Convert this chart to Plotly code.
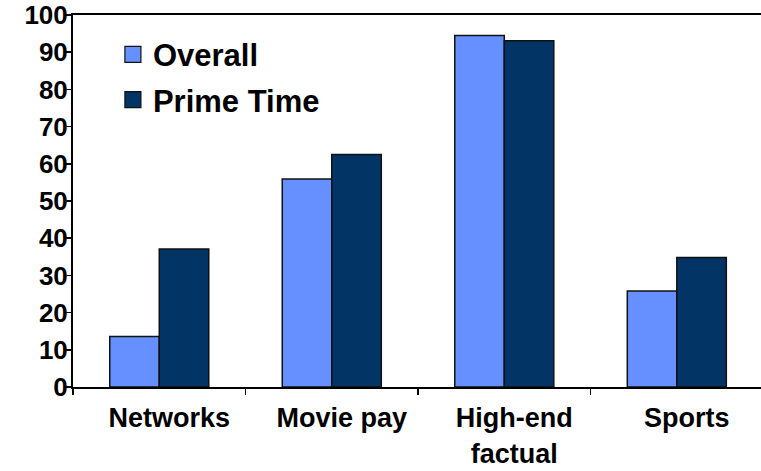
import plotly.graph_objects as go

categories = ["Networks", "Movie pay", "High-end<br>factual", "Sports"]
overall = [13.6, 55.9, 94.5, 25.8]
prime_time = [37.1, 62.5, 93.1, 34.8]
y_ticks = [0, 10, 20, 30, 40, 50, 60, 70, 80, 90, 100]
series_names = ["Overall", "Prime Time"]
series_colors = ["#6690FF", "#023466"]

FONT = "Liberation Sans, Arial, sans-serif"

fig = go.Figure()
for name, vals, col in zip(series_names, [overall, prime_time], series_colors):
    fig.add_trace(go.Bar(name=name, x=categories, y=vals, showlegend=False,
                         marker=dict(color=col, line=dict(color="#111111", width=1.5))))
# legend entries (larger square swatches)
for i, (name, col) in enumerate(zip(series_names, series_colors)):
    fig.add_trace(go.Scatter(name=name, x=[None], y=[None], mode="markers",
                             legendgroup=f"g{i}",
                             marker=dict(symbol="square", size=16, color=col,
                                         line=dict(color="#111111", width=1.2))))

fig.update_layout(
    width=761, height=471,
    margin=dict(l=73, r=0, t=15, b=84),
    plot_bgcolor="white", paper_bgcolor="white",
    barmode="group", bargap=0.426, bargroupgap=0,
    font=dict(family=FONT, color="black"),
    showlegend=True,
    legend=dict(x=0.058, y=0.966, xanchor="left", yanchor="top",
                bgcolor="rgba(0,0,0,0)", traceorder="grouped", tracegroupgap=2,
                font=dict(size=31, family=FONT, weight="bold")),
    xaxis=dict(range=[-0.5, 3.488], showline=True, linecolor="black", linewidth=2,
               mirror=True, ticks="outside", tickson="boundaries", ticklen=6,
               tickcolor="black", tickwidth=1.5, showgrid=False, automargin=False,
               tickfont=dict(size=27, family=FONT, weight="bold"),
               ticklabelshift=10, ticklabelstandoff=6, ticklabeloverflow="allow"),
    yaxis=dict(range=[0, 100], tickvals=y_ticks, showline=True, linecolor="black",
               linewidth=2, ticks="outside", ticklen=7, tickcolor="black", tickwidth=1.5,
               showgrid=False, zeroline=False, automargin=False,
               tickfont=dict(size=26, family=FONT, weight="bold"),
               ticklabelstandoff=-9, ticklabeloverflow="allow"),
)

fig.write_html("out.html", config={"displayModeBar": False, "staticPlot": True},
               post_script="document.body.style.margin='0';document.body.style.overflow='hidden';")
